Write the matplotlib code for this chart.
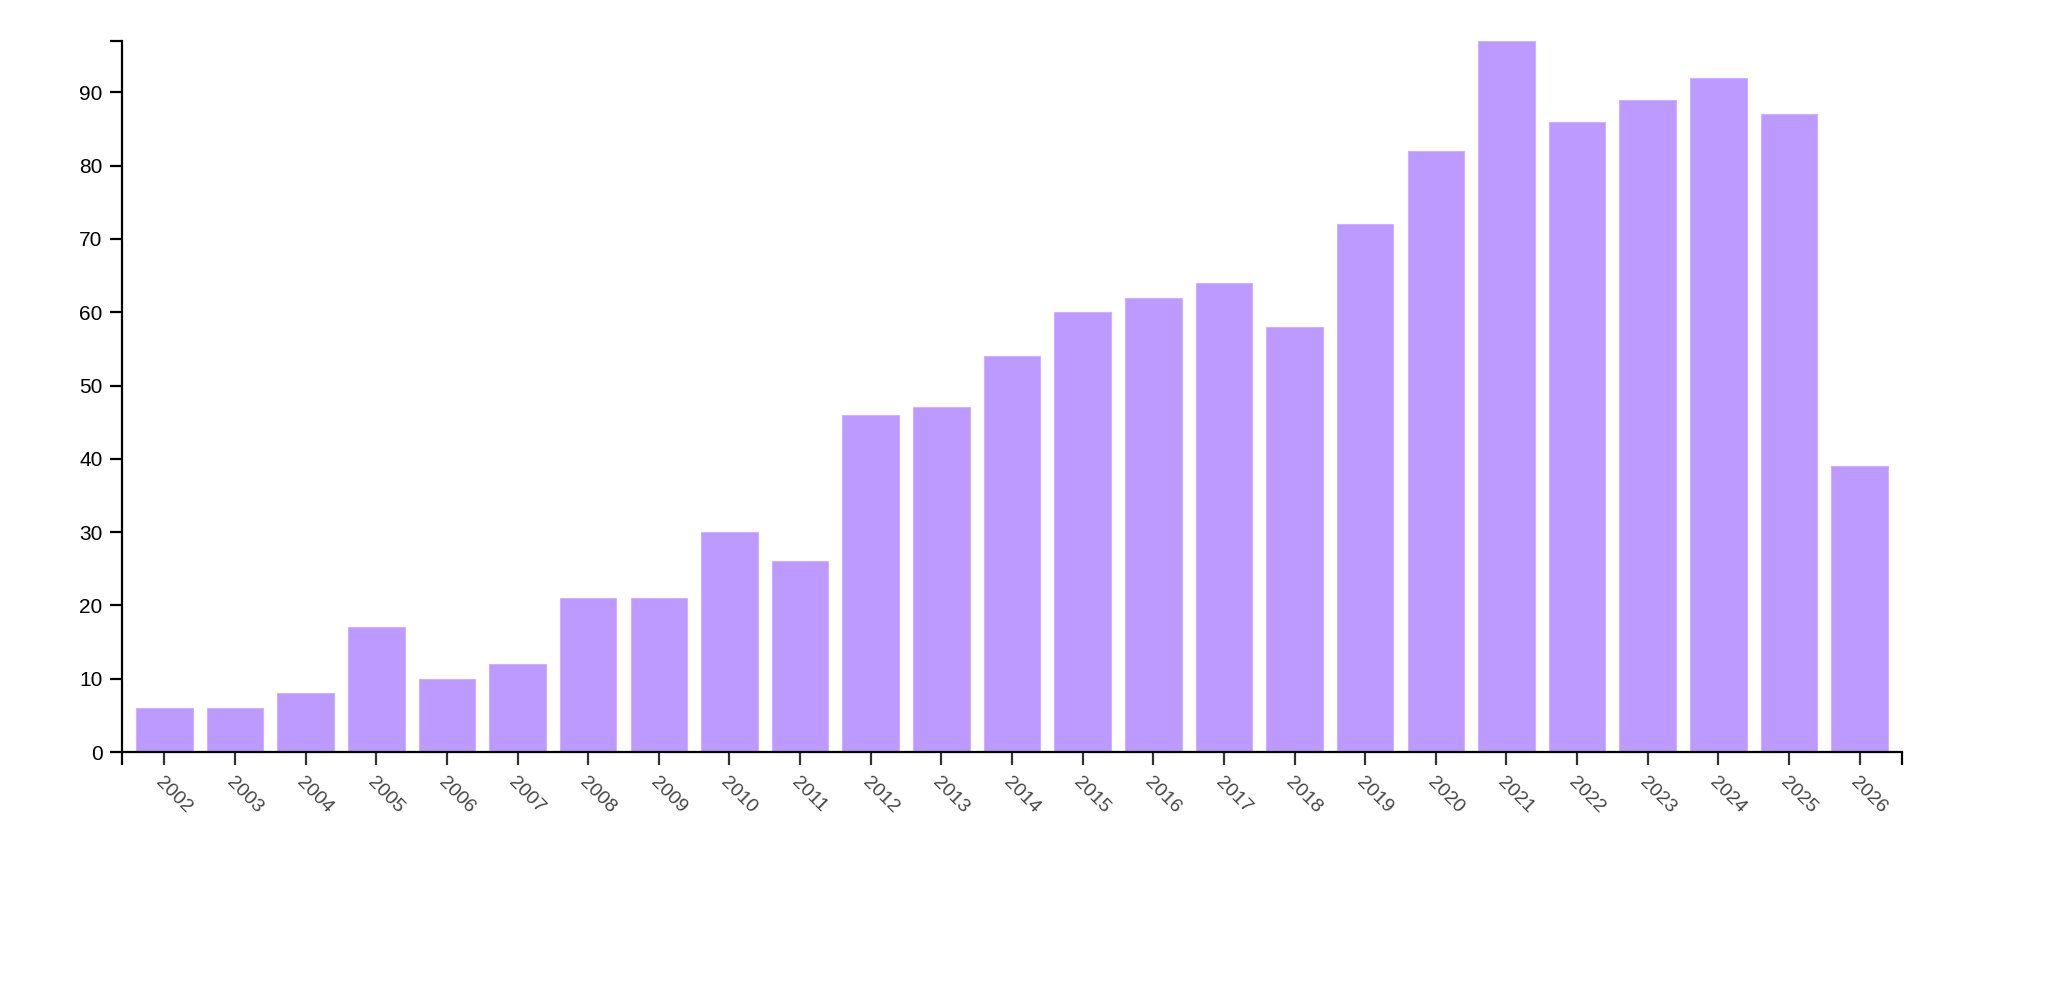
import matplotlib
matplotlib.use('Agg')
import matplotlib.pyplot as plt

# Data
years = [str(y) for y in range(2002, 2027)]
counts = [6, 6, 8, 17, 10, 12, 21, 21, 30, 26, 46, 47, 54, 60, 62,
          64, 58, 72, 82, 97, 86, 89, 92, 87, 39]
y_ticks = [0, 10, 20, 30, 40, 50, 60, 70, 80, 90]

plt.rcParams['font.family'] = ['Liberation Sans', 'DejaVu Sans']

fig = plt.figure(figsize=(20.48, 10), dpi=100)
ax = fig.add_axes([122/2048, 1 - 752/1000, 1780/2048, 711/1000])

x = list(range(len(years)))
ax.bar(x, counts, width=0.8, color='#bc9aff', edgecolor='#cbb1ff', linewidth=0.8)

ax.set_xlim(-0.6, len(years) - 0.4)
ax.set_ylim(0, max(counts))

for s in ['top', 'right']:
    ax.spines[s].set_visible(False)
for s in ['left', 'bottom']:
    ax.spines[s].set_linewidth(1.6)
    ax.spines[s].set_color('black')

ax.set_yticks(y_ticks)
ax.set_yticklabels([str(v) for v in y_ticks], fontsize=15, color='black')
ax.set_xticks(x)
ax.set_xticklabels(years, fontsize=14, color='#444444', rotation=-45,
                   ha='left', va='top', rotation_mode='anchor')

# outer ticks at the ends of the axes
ax.set_xticks([-0.6, len(years) - 0.4], minor=True)
ax.set_yticks([max(counts)], minor=True)

ax.tick_params(which='both', direction='out', length=9, width=1.6, color='black')
ax.tick_params(axis='x', which='major', color='#333333', pad=7)
ax.tick_params(axis='y', pad=5)

fig.savefig('out.png', dpi=100, facecolor='white')
